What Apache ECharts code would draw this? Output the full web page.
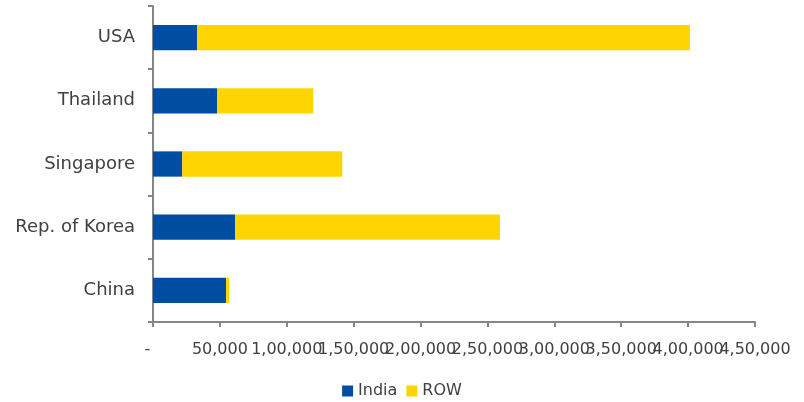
<!DOCTYPE html>
<html><head><meta charset="utf-8">
<script src="https://cdn.jsdelivr.net/npm/echarts@6/dist/echarts.min.js"></script>
<style>html,body{margin:0;padding:0;background:#fff}#c{width:804px;height:402px}</style>
</head><body><div id="c"></div>
<script>
var categories = ['China', 'Rep. of Korea', 'Singapore', 'Thailand', 'USA'];
var india = [54600, 61500, 21900, 48100, 33100];
var row = [2400, 197900, 119600, 71700, 368300];
var xMax = 450000;
var xInterval = 50000;

function indianFormat(v) {
  if (v === 0) return '{d|-}';
  var s = String(Math.round(v));
  var last3 = s.slice(-3);
  var rest = s.slice(0, -3);
  var out = last3;
  if (rest.length) {
    rest = rest.replace(/\B(?=(\d{2})+(?!\d))/g, ',');
    out = rest + ',' + last3;
  }
  return out;
}

var chart = echarts.init(document.getElementById('c'));
var font = '"DejaVu Sans", sans-serif';
var labelBase = {fontFamily: font, fontSize: 16, color: '#404040', margin: 20,
  hideOverlap: false, showMinLabel: true, showMaxLabel: true, interval: 0,
  rich: {d: {fontFamily: font, fontSize: 16, color: '#404040', padding: [0, 11, 0, 0]}}};
chart.setOption({
  animation: false,
  grid: {left: 153, right: 49, top: 6, bottom: 80},
  legend: {
    bottom: -2, left: 'center',
    itemWidth: 11, itemHeight: 11, itemGap: 9,
    icon: 'rect',
    textStyle: {fontFamily: font, fontSize: 16, color: '#404040'},
    data: ['India', 'ROW']
  },
  xAxis: [{
    type: 'value', min: 0, max: xMax, interval: xInterval, position: 'bottom',
    axisLine: {show: true, lineStyle: {color: '#868686', width: 2}},
    axisTick: {show: true, length: 5, lineStyle: {color: '#868686', width: 2}},
    splitLine: {show: false},
    axisLabel: Object.assign({}, labelBase, {formatter: function (v) { return v === xMax ? '' : indianFormat(v); }})
  }, {
    type: 'value', min: 0, max: xMax, interval: xInterval, position: 'bottom', offset: 0,
    axisLine: {show: false}, axisTick: {show: false}, splitLine: {show: false},
    axisLabel: Object.assign({}, labelBase, {formatter: function (v) { return v === xMax ? indianFormat(v) : ''; }})
  }],
  yAxis: {
    type: 'category', data: categories,
    axisLine: {show: true, lineStyle: {color: '#868686', width: 2}},
    axisTick: {show: true, length: 5, lineStyle: {color: '#868686', width: 2}},
    axisLabel: {fontFamily: font, fontSize: 18, color: '#404040', margin: 18}
  },
  series: [
    {name: 'India', type: 'bar', stack: 'a', data: india, barWidth: '40%', xAxisIndex: 0,
     itemStyle: {color: '#004EA2'}},
    {name: 'ROW', type: 'bar', stack: 'a', data: row, barWidth: '40%', xAxisIndex: 0,
     itemStyle: {color: '#FFD500'}}
  ]
});
</script></body></html>
